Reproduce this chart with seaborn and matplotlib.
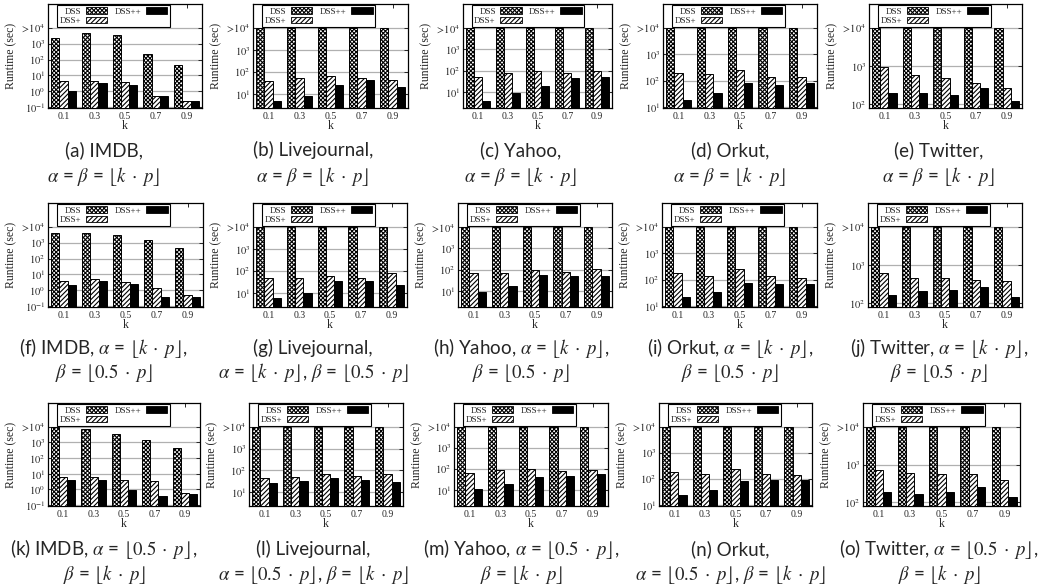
import pandas as pd
import matplotlib
matplotlib.use("Agg")
import matplotlib.pyplot as plt
import seaborn as sns
from matplotlib.patches import Patch
from matplotlib.ticker import FixedLocator, FixedFormatter, NullLocator

# x categories and series names
k_values = ["0.1", "0.3", "0.5", "0.7", "0.9"]
methods = ["DSS", "DSS+", "DSS++"]
datasets = ["IMDB", "Livejournal", "Yahoo", "Orkut", "Twitter"]

# runtimes (sec), one list per dataset in the order above
# DSS hits the 10^4 s limit on every graph except IMDB
# row 1: alpha = beta = floor(k*p)
dss_row1 = [[2300, 4800, 3800, 240, 48],
            [1e4, 1e4, 1e4, 1e4, 1e4],
            [1e4, 1e4, 1e4, 1e4, 1e4],
            [1e4, 1e4, 1e4, 1e4, 1e4],
            [1e4, 1e4, 1e4, 1e4, 1e4]]
dssp_row1 = [[4.7, 4.5, 3.9, 0.54, 0.23],
             [41, 51, 66, 51, 42],
             [52, 78, 100, 80, 100],
             [195, 180, 255, 134, 140],
             [960, 580, 485, 355, 265]]
dsspp_row1 = [[1.0, 3.2, 2.6, 0.5, 0.24],
              [5, 8.1, 26, 42, 21],
              [3.5, 8.3, 19.5, 43, 48],
              [18, 34, 79, 69, 79],
              [195, 195, 175, 265, 122]]

# row 2: alpha = floor(k*p), beta = floor(0.5*p)
dss_row2 = [[4000, 4000, 3100, 1450, 450],
            [1e4, 1e4, 1e4, 1e4, 1e4],
            [1e4, 1e4, 1e4, 1e4, 1e4],
            [1e4, 1e4, 1e4, 1e4, 1e4],
            [1e4, 1e4, 1e4, 1e4, 1e4]]
dssp_row2 = [[3.9, 5.5, 3.5, 1.3, 0.48],
             [50, 47, 57, 50, 78],
             [70, 70, 95, 75, 105],
             [180, 140, 250, 140, 120],
             [640, 470, 470, 400, 380]]
dsspp_row2 = [[2.1, 3.9, 2.4, 0.38, 0.38],
              [6, 10, 35, 37, 22],
              [8.5, 17, 55, 50, 50],
              [22, 35, 75, 70, 70],
              [166, 205, 225, 275, 150]]

# row 3: alpha = floor(0.5*p), beta = floor(k*p)
dss_row3 = [[10000, 6900, 3300, 1500, 420],
            [1e4, 1e4, 1e4, 1e4, 1e4],
            [1e4, 1e4, 1e4, 1e4, 1e4],
            [1e4, 1e4, 1e4, 1e4, 1e4],
            [1e4, 1e4, 1e4, 1e4, 1e4]]
dssp_row3 = [[6, 6, 4, 3.5, 0.6],
             [46, 48, 65, 55, 65],
             [65, 90, 100, 80, 90],
             [180, 155, 240, 155, 143],
             [730, 600, 560, 560, 400]]
dsspp_row3 = [[4, 4, 0.9, 0.4, 0.5],
              [27, 33, 45, 35, 28],
              [11, 19, 40, 45, 55],
              [25, 38, 81, 93, 87],
              [193, 167, 193, 263, 142]]

rows = [(dss_row1, dssp_row1, dsspp_row1),
        (dss_row2, dssp_row2, dsspp_row2),
        (dss_row3, dssp_row3, dsspp_row3)]

# axis ranges / ticks per dataset
ylims = {"IMDB": (0.088, 3.3e5), "Livejournal": (2.3, 1.25e5), "Yahoo": (1.7, 1.4e5),
         "Orkut": (9.2, 8e4), "Twitter": (80, 4.3e4)}
yticks = {"IMDB": [0.1, 1, 10, 100, 1000, 10000],
          "Livejournal": [10, 100, 1000, 10000],
          "Yahoo": [10, 100, 1000, 10000],
          "Orkut": [10, 100, 1000, 10000],
          "Twitter": [100, 1000, 10000]}
tick_text = {0.1: r"$10^{-1}$", 1: r"$10^{0}$", 10: r"$10^{1}$", 100: r"$10^{2}$",
             1000: r"$10^{3}$", 10000: r"$>\!10^{4}$"}

fl_kp = r"$\lfloor k\;\cdot\;p\rfloor$"
fl_05 = r"$\lfloor 0.5\;\cdot\;p\rfloor$"
captions = [
    ["(a) IMDB,", "(b) Livejournal,", "(c) Yahoo,", "(d) Orkut,", "(e) Twitter,"],
    ["(f) IMDB, $\\alpha$ = " + fl_kp + ",", "(g) Livejournal,",
     "(h) Yahoo, $\\alpha$ = " + fl_kp + ",", "(i) Orkut, $\\alpha$ = " + fl_kp + ",",
     "(j) Twitter, $\\alpha$ = " + fl_kp + ","],
    ["(k) IMDB, $\\alpha$ = " + fl_05 + ",", "(l) Livejournal,",
     "(m) Yahoo, $\\alpha$ = " + fl_05 + ",", "(n) Orkut,",
     "(o) Twitter, $\\alpha$ = " + fl_05 + ","],
]
captions2 = [
    ["$\\alpha$ = $\\beta$ = " + fl_kp] * 5,
    ["$\\beta$ = " + fl_05, "$\\alpha$ = " + fl_kp + ", $\\beta$ = " + fl_05,
     "$\\beta$ = " + fl_05, "$\\beta$ = " + fl_05, "$\\beta$ = " + fl_05],
    ["$\\beta$ = " + fl_kp, "$\\alpha$ = " + fl_05 + ", $\\beta$ = " + fl_kp,
     "$\\beta$ = " + fl_kp, "$\\alpha$ = " + fl_05 + ", $\\beta$ = " + fl_kp,
     "$\\beta$ = " + fl_kp],
]

sns.set_style("ticks")
plt.rcParams["font.family"] = ["Liberation Serif", "DejaVu Serif"]
plt.rcParams["mathtext.fontset"] = "stix"
plt.rcParams["hatch.linewidth"] = 0.8

W, H = 1043, 588
fig = plt.figure(figsize=(W / 100, H / 100), dpi=100)

# panel boxes in pixels: left, right per column; top, bottom per row
lefts = [[48, 253, 463, 663, 869], [48, 253, 458, 662, 868], [48, 249, 454, 659, 863]]
rights = [[202, 408, 612, 817, 1022], [203, 407, 612, 817, 1022], [200, 403, 608, 812, 1020]]
tops = [4, 203, 403]
bottoms = [108, 307, 506]
cap_y = [(150, 176), (348, 373), (549, 574)]
cap_x = [104, 313, 521, 730, 939]

hatches = {"DSS": "xxxxxxxx", "DSS+": "///////", "DSS++": ""}
faces = {"DSS": "white", "DSS+": "white", "DSS++": "black"}

for r in range(3):
    dss_r, dssp_r, dsspp_r = rows[r]
    for c, name in enumerate(datasets):
        l, rr = lefts[r][c], rights[r][c]
        t, b = tops[r], bottoms[r]
        ax = fig.add_axes([l / W, 1 - b / H, (rr - l) / W, (b - t) / H])

        df = pd.DataFrame({
            "k": k_values * 3,
            "runtime": dss_r[c] + dssp_r[c] + dsspp_r[c],
            "method": [m for m in methods for _ in k_values],
        })
        sns.barplot(data=df, x="k", y="runtime", hue="method", hue_order=methods,
                    palette=faces, saturation=1, edgecolor="black", linewidth=0.7,
                    errorbar=None, legend=False, ax=ax, zorder=3)
        for cont, m in zip(ax.containers, methods):
            for p in cont:
                p.set_hatch(hatches[m])
                p.set_facecolor(faces[m])
                p.set_edgecolor("black")

        ax.set_yscale("log")
        ax.set_ylim(*ylims[name])
        ax.set_xlim(-0.5, 4.5)
        ax.yaxis.set_major_locator(FixedLocator(yticks[name]))
        ax.yaxis.set_major_formatter(FixedFormatter([tick_text[v] for v in yticks[name]]))
        ax.yaxis.set_minor_locator(NullLocator())
        ax.yaxis.grid(True, color="#b0b0b0", lw=0.9, zorder=0)
        ax.set_axisbelow(True)
        ax.tick_params(direction="in", length=3, width=0.7, labelsize=7.5, pad=2,
                       top=True, right=True)
        ax.tick_params(axis="x", labelsize=7, pad=3)
        for s in ax.spines.values():
            s.set_linewidth(0.9)
            s.set_color("black")
        ax.set_xlabel("k", fontsize=8.5, labelpad=-1)
        ax.set_ylabel("Runtime (sec)", fontsize=8.5)
        ax.yaxis.set_label_coords(-31 / (rr - l), 0.5)

        handles = [Patch(facecolor=faces[m], edgecolor="black", hatch=hatches[m],
                         linewidth=0.6, label=m) for m in methods]
        leg = ax.legend(handles=handles, ncol=2, markerfirst=False, fontsize=6.5,
                        loc="upper left", bbox_to_anchor=(0.06, 0.99), borderaxespad=0,
                        borderpad=0.25, labelspacing=0.1, handlelength=2.4,
                        handleheight=0.7, handletextpad=0.5, columnspacing=0.8,
                        fancybox=False, framealpha=1, edgecolor="black")
        leg.get_frame().set_linewidth(0.8)

        fig.text(cap_x[c] / W, 1 - cap_y[r][0] / H, captions[r][c], ha="center",
                 va="center", fontsize=13.5, family=["Lato", "DejaVu Sans"])
        fig.text(cap_x[c] / W, 1 - cap_y[r][1] / H, captions2[r][c], ha="center",
                 va="center", fontsize=13.5, family=["Lato", "DejaVu Sans"])

fig.savefig("out.png", dpi=100)
